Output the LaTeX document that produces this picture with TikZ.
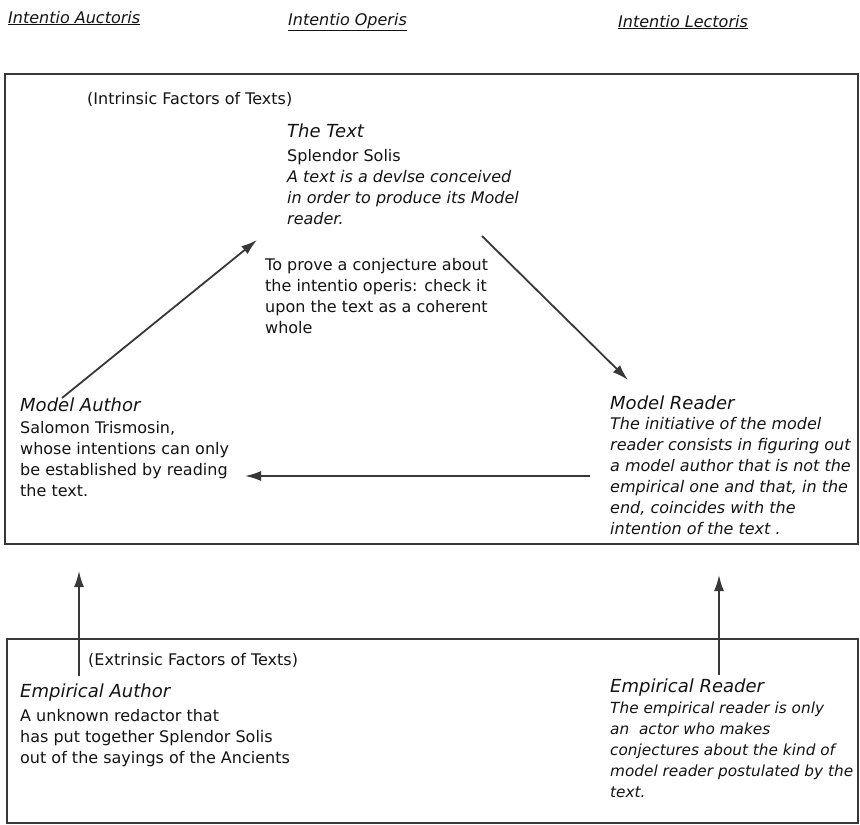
\documentclass[tikz,border=0pt]{standalone}
\usepackage{fontspec}
\setmainfont{DejaVu Sans}
\usetikzlibrary{arrows.meta}
\definecolor{ink}{HTML}{141414}
\definecolor{linec}{HTML}{383838}
\tikzset{
  body/.style={anchor=north west, inner sep=0pt, align=left, font=\fontsize{16}{21}\selectfont, text=ink},
  bodysm/.style={body, font=\fontsize{15.3}{21}\selectfont},
  head/.style={anchor=base west, inner sep=0pt, font=\fontsize{18}{22}\selectfont\itshape, text=ink},
  lbl/.style={anchor=base west, inner sep=0pt, font=\fontsize{16}{21}\selectfont, text=ink},
  toplbl/.style={anchor=base west, inner sep=0pt, font=\fontsize{16}{21}\selectfont\itshape, text=ink},
  frame/.style={draw=linec, line width=1.6pt},
  conn/.style={draw=linec, line width=1.8pt, -{Latex[length=16pt,width=10pt]}},
}
\newcommand{\fs}{\rule{0pt}{13pt}}
\begin{document}
\begin{tikzpicture}[x=1pt,y=-1pt]
\useasboundingbox (0,0) rectangle (860,825);
\fill[white] (0,0) rectangle (860,825);

% column headers
\node[toplbl] (hA) at (8,23) {\underline{Intentio Auctoris}};
\node[toplbl] (hO) at (288,25) {\underline{Intentio Operis}};
\node[toplbl] (hL) at (618,27) {\underline{Intentio Lectoris}};

% frames
\node[frame, anchor=north west, inner sep=0pt, minimum width=853pt, minimum height=470pt] (intr) at (4,73) {};
\node[frame, anchor=north west, inner sep=0pt, minimum width=851pt, minimum height=184pt] (extr) at (6,638) {};

% intrinsic box content
\node[lbl] (intrl) at (87,104) {(Intrinsic Factors of Texts)};
\node[head] (textH) at (287,137) {The Text};
\node[body] (textB) at (287,148) {\fs Splendor Solis\\
  \itshape A text is a devlse conceived\\
  \itshape in order to produce its Model\\
  \itshape reader.};
\node[body] (prove) at (265,257) {\fs To prove a conjecture about\\
  the intentio operis: check it\\
  upon the text as a coherent\\
  whole};

\node[head] (maH) at (20,411) {Model Author};
\node[body] (maB) at (20,420) {\fs Salomon Trismosin,\\
  whose intentions can only\\
  be established by reading\\
  the text.};

\node[head] (mrH) at (610,409) {Model Reader};
\node[body] (mrB) at (610,416) {\fs\itshape The initiative of the model\\
  \itshape reader consists in figuring out\\
  \itshape a model author that is not the\\
  \itshape empirical one and that, in the\\
  \itshape end, coincides with the\\
  \itshape intention of the text .};

% extrinsic box content
\node[lbl] (extrl) at (88,665) {(Extrinsic Factors of Texts)};
\node[head] (eaH) at (20,697) {Empirical Author};
\node[body] (eaB) at (20,708) {\fs A unknown redactor that\\
  has put together Splendor Solis\\
  out of the sayings of the Ancients};

\node[head] (erH) at (610,692) {Empirical Reader};
\node[bodysm] (erB) at (610,700) {\fs\itshape The empirical reader is only\\
  \itshape an\ \ actor who makes\\
  \itshape conjectures about the kind of\\
  \itshape model reader postulated by the\\
  \itshape text.};

% connector end points
\coordinate (a1s) at (62,398);
\coordinate (a1e) at (257,240);
\coordinate (a2s) at (482,236);
\coordinate (a2e) at (628,380);
\coordinate (a3s) at (590,476);
\coordinate (a3e) at (245,476);
\coordinate (a4s) at (79,676);
\coordinate (a4e) at (79,571);
\coordinate (a5s) at (719,675);
\coordinate (a5e) at (719,575);

\draw[conn] (a1s) -- (a1e);
\draw[conn] (a2s) -- (a2e);
\draw[conn] (a3s) -- (a3e);
\draw[conn] (a4s) -- (a4e);
\draw[conn] (a5s) -- (a5e);
\end{tikzpicture}
\end{document}
